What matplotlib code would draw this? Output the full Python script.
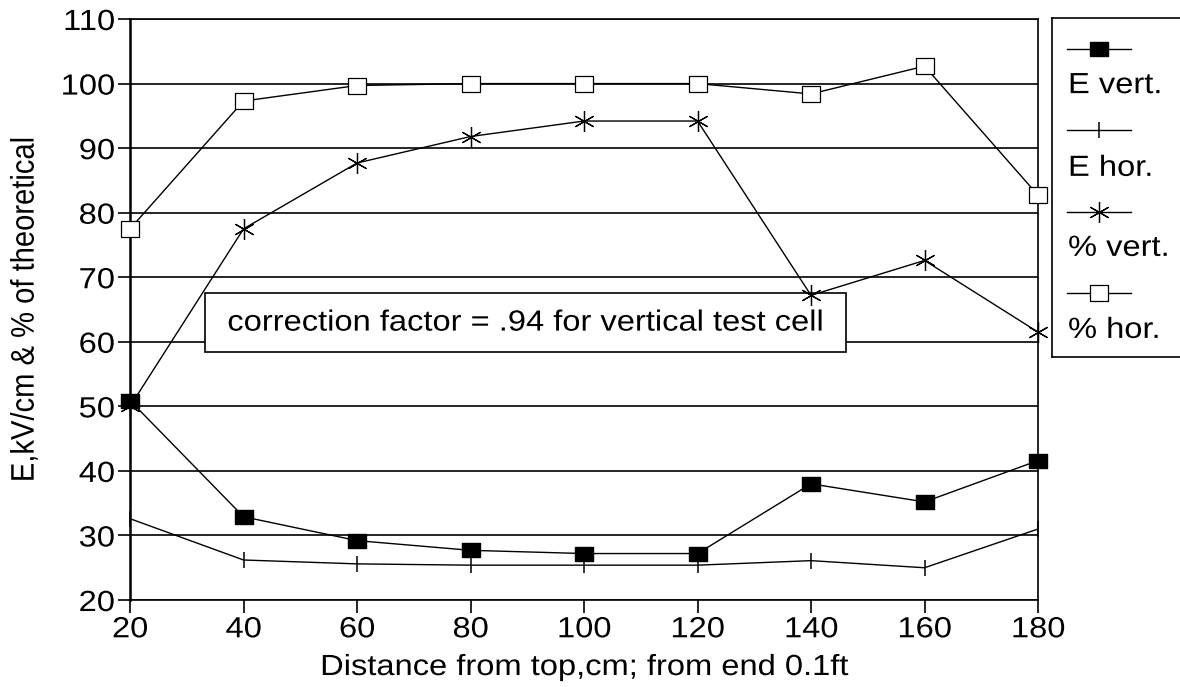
import numpy as np
import matplotlib.pyplot as plt
from matplotlib import patheffects
from matplotlib.lines import Line2D
from matplotlib.patches import Rectangle
from matplotlib.transforms import Affine2D

plt.rcParams['font.family'] = ['Liberation Sans', 'DejaVu Sans']

dist = [20, 40, 60, 80, 100, 120, 140, 160, 180]
e_vert = [50.9, 32.9, 29.2, 27.7, 27.2, 27.2, 38.0, 35.2, 41.6]
e_hor = [32.6, 26.2, 25.6, 25.4, 25.4, 25.4, 26.1, 25.0, 31.0]
pct_vert = [50.0, 77.5, 87.7, 91.8, 94.2, 94.2, 67.2, 72.6, 61.5]
pct_hor = [77.5, 97.3, 99.7, 100.0, 100.0, 100.0, 98.4, 102.7, 82.7]
labels = ['E vert.', 'E hor.', '% vert.', '% hor.']
note = 'correction factor = .94 for vertical test cell'


class Widen(patheffects.AbstractPathEffect):
    """Stretch drawn text sideways about its left, right or centre."""

    def __init__(self, sx=1.12, anchor='center'):
        super().__init__()
        self.sx = sx
        self.anchor = anchor

    def draw_path(self, renderer, gc, tpath, affine, rgbFace=None):
        pts = affine.transform(tpath.vertices)
        if len(pts):
            lo, hi = pts[:, 0].min(), pts[:, 0].max()
            x0 = {'left': lo, 'right': hi}.get(self.anchor, (lo + hi) / 2)
            affine = affine + Affine2D().translate(-x0, 0).scale(self.sx, 1).translate(x0, 0)
        renderer.draw_path(gc, tpath, affine, rgbFace)


fs = 21
star = (6, 2, 0)
box = [(-1.22, -1), (1.22, -1), (1.22, 1), (-1.22, 1), (-1.22, -1)]
styles = [
    dict(marker=box, ms=12.5, mfc='black', mec='black'),
    dict(marker='|', ms=11, mew=1.1, mec='black'),
    dict(marker=star, ms=15, mew=0.9, mec='black'),
    dict(marker=box, ms=13.5, mfc='white', mec='black', mew=0.9),
]

fig = plt.figure(figsize=(11.8, 6.87), dpi=100)
ax = fig.add_axes([0.1102, 0.1266, 0.7695, 0.8457])

for ys, st in zip([e_vert, e_hor, pct_vert, pct_hor], styles):
    ax.plot(dist, ys, color='black', lw=1.0, clip_on=False, zorder=4, **st)

ax.set_xlim(20, 180)
ax.set_ylim(20, 110)
ax.set_xticks(dist)
ax.set_yticks(np.arange(20, 111, 10))
ax.yaxis.grid(True, color='black', lw=1.2)
ax.set_axisbelow(True)
for s in ax.spines.values():
    s.set_linewidth(1.2)
ax.spines['left'].set_linewidth(1.8)
ax.tick_params(axis='both', labelsize=fs, length=9, width=1.2, direction='out', pad=2)
ax.set_xlabel('Distance from top,cm; from end 0.1ft', fontsize=fs, labelpad=7)
ax.set_ylabel('E,kV/cm & % of theoretical', fontsize=fs, labelpad=20)

for t in ax.get_xticklabels():
    t.set_path_effects([Widen()])
for t in ax.get_yticklabels():
    t.set_path_effects([Widen(anchor='right')])
ax.xaxis.label.set_path_effects([Widen()])
ax.yaxis.label.set_path_effects([Widen()])

# note box inside the plot
ax.add_patch(Rectangle((0.0826, 0.4268), 0.7062, 0.1015, transform=ax.transAxes,
                       facecolor='white', edgecolor='black', lw=1.2, zorder=3))
ax.text(0.4357, 0.4775, note, transform=ax.transAxes, fontsize=fs,
        ha='center', va='center', zorder=5, path_effects=[Widen()])

# legend panel: sample line above each label
lg = fig.add_axes([0.8915, 0.4803, 0.2, 0.4935])
lg.set_xlim(0, 1)
lg.set_ylim(0, 1)
lg.set_xticks([])
lg.set_yticks([])
for s in lg.spines.values():
    s.set_linewidth(1.2)
line_y = [0.909, 0.670, 0.428, 0.189]
text_y = [0.802, 0.558, 0.322, 0.080]
for lab, st, ly, ty in zip(labels, styles, line_y, text_y):
    lg.add_line(Line2D([0.063, 0.333], [ly, ly], color='black', lw=1.0))
    lg.plot([0.198], [ly], linestyle='none', **st)
    lg.text(0.068, ty, lab, fontsize=fs, ha='left', va='center',
            path_effects=[Widen(anchor='left')])

fig.savefig('out.png', dpi=100, facecolor='white')
